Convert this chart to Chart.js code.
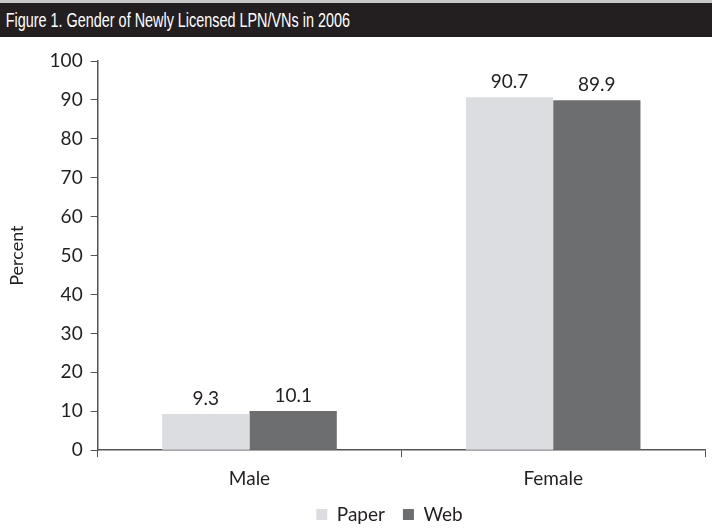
<!DOCTYPE html>
<html>
<head>
<meta charset="utf-8">
<script src="https://cdn.jsdelivr.net/npm/chart.js@4/dist/chart.umd.min.js"></script>
<style>
  body { margin: 0; background: #fff; }
  #titulo {
    width: 712px; height: 37px; background: #231f20; color: #fff;
    border-top: 3px solid #c8c8c8; box-sizing: border-box; overflow: hidden;
    font-family: "Liberation Sans", sans-serif; font-size: 20px; line-height: 34px;
  }
  #titulo span { display: inline-block; transform: scaleX(0.72); transform-origin: 0 50%; padding-left: 8px; white-space: nowrap; }
  #wrap { width: 712px; height: 492px; position: relative; }
</style>
</head>
<body>
<div id="titulo"><span>Figure 1. Gender of Newly Licensed LPN/VNs in 2006</span></div>
<div id="wrap"><canvas id="grafica"></canvas></div>
<script>
const categorias = ['Male', 'Female'];
const datosPaper = [9.3, 90.7];
const datosWeb = [10.1, 89.9];
const etiquetasY = [0, 10, 20, 30, 40, 50, 60, 70, 80, 90, 100];

var colorPaper = '#dcdde0';
var colorWeb = '#6d6e70';
var colorTexto = '#231f20';
var fuente = 'Lato, "Noto Sans", sans-serif';

// etiquetas de valor encima de cada barra
const valores = {
    id: 'valores',
    afterDatasetsDraw(chart) {
        const ctx = chart.ctx;
        ctx.save();
        ctx.font = '19px ' + fuente;
        ctx.fillStyle = colorTexto;
        ctx.textAlign = 'center';
        ctx.textBaseline = 'bottom';
        chart.data.datasets.forEach((ds, i) => {
            chart.getDatasetMeta(i).data.forEach((bar, j) => {
                ctx.fillText(ds.data[j].toFixed(1), bar.x, bar.y - 6);
            });
        });
        ctx.restore();
    }
};

// la leyenda va un poco a la derecha, centrada bajo el area del grafico
const moverLeyenda = {
    id: 'moverLeyenda',
    afterInit(chart) {
        const leyenda = chart.legend;
        const dibujar = leyenda.draw.bind(leyenda);
        leyenda.draw = function() {
            chart.ctx.save();
            chart.ctx.translate(34, 0);
            dibujar();
            chart.ctx.restore();
        };
    }
};

const config = {
    type: 'bar',
    data: {
        labels: categorias,
        datasets: [
            { label: 'Paper', data: datosPaper, backgroundColor: colorPaper, categoryPercentage: 0.575, barPercentage: 1 },
            { label: 'Web', data: datosWeb, backgroundColor: colorWeb, categoryPercentage: 0.575, barPercentage: 1 }
        ]
    },
    options: {
        responsive: true,
        maintainAspectRatio: false,
        animation: false,
        layout: { padding: { top: 24, right: 7, left: 6, bottom: -5 } },
        plugins: {
            legend: {
                position: 'bottom',
                labels: {
                    boxWidth: 11, boxHeight: 11, color: colorTexto,
                    font: { family: fuente, size: 19 }, padding: 18
                }
            },
            tooltip: { enabled: false }
        },
        scales: {
            x: {
                afterFit: (scale) => { scale.height -= 13; },
                grid: { drawOnChartArea: false, color: '#555', tickLength: 7, offset: true },
                border: { color: '#555', width: 1.5 },
                ticks: { color: colorTexto, font: { family: fuente, size: 19 }, padding: 10 }
            },
            y: {
                min: 0, max: 100,
                afterBuildTicks: (axis) => { axis.ticks = etiquetasY.map(v => ({ value: v })); },
                grid: { drawOnChartArea: false, color: '#555', tickLength: 7 },
                border: { color: '#555', width: 1.5 },
                ticks: { color: colorTexto, font: { family: fuente, size: 19 }, padding: 8 },
                title: { display: true, text: 'Percent', color: colorTexto, font: { family: fuente, size: 18 }, padding: { top: 0, bottom: 14 } }
            }
        }
    },
    plugins: [valores, moverLeyenda]
};

new Chart(document.getElementById('grafica'), config);
</script>
</body>
</html>
